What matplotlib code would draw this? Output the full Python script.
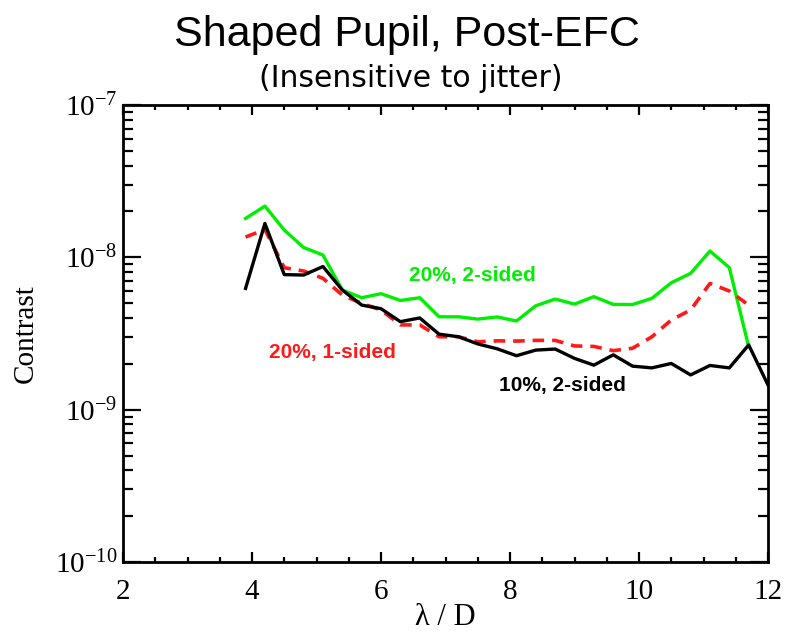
import matplotlib
matplotlib.use("Agg")
import matplotlib.pyplot as plt
from matplotlib.ticker import FixedLocator, LogLocator, MultipleLocator, NullFormatter
import numpy as np

# lambda/D sampling
lam = [3.9, 4.2, 4.5, 4.8, 5.1, 5.4, 5.7, 6.0, 6.3, 6.6, 6.9, 7.2, 7.5, 7.8,
       8.1, 8.4, 8.7, 9.0, 9.3, 9.6, 9.9, 10.2, 10.5, 10.8, 11.1, 11.4, 11.7, 12.0]

# 10%, 2-sided (black)
black = [6.25e-9, 1.67e-8, 7.7e-9, 7.65e-9, 8.7e-9, 6.1e-9, 4.86e-9, 4.6e-9,
         3.78e-9, 4.0e-9, 3.13e-9, 3.01e-9, 2.70e-9, 2.51e-9, 2.26e-9, 2.46e-9,
         2.50e-9, 2.17e-9, 1.96e-9, 2.29e-9, 1.93e-9, 1.88e-9, 2.01e-9, 1.69e-9,
         1.95e-9, 1.88e-9, 2.66e-9, 1.45e-9]

# 20%, 2-sided (green)
green = [1.80e-8, 2.17e-8, 1.51e-8, 1.16e-8, 1.035e-8, 6.1e-9, 5.43e-9, 5.77e-9,
         5.21e-9, 5.43e-9, 4.07e-9, 4.07e-9, 3.93e-9, 4.06e-9, 3.82e-9, 4.81e-9,
         5.32e-9, 4.93e-9, 5.52e-9, 4.91e-9, 4.90e-9, 5.38e-9, 6.81e-9, 7.85e-9,
         1.10e-8, 8.55e-9, 2.59e-9]

# 20%, 1-sided (red dashed)
red = [1.36e-8, 1.52e-8, 8.55e-9, 8.13e-9, 7.28e-9, 5.65e-9, 4.99e-9, 4.51e-9,
       3.6e-9, 3.6e-9, 3.01e-9, 3.01e-9, 2.79e-9, 2.83e-9, 2.82e-9, 2.85e-9,
       2.85e-9, 2.62e-9, 2.60e-9, 2.44e-9, 2.53e-9, 3.01e-9, 3.88e-9, 4.51e-9,
       6.74e-9, 6.01e-9, 4.86e-9]

serif = ["Liberation Serif", "DejaVu Serif"]
plt.rcParams["mathtext.fontset"] = "custom"
plt.rcParams["mathtext.rm"] = "Liberation Serif"

fig = plt.figure(figsize=(7.87, 6.36), dpi=100)
ax = fig.add_axes([0.1563, 0.1164, 0.8196, 0.7185])

ax.plot(lam[:len(green)], green, color="#00ee00", lw=2.4)
ax.plot(lam[:len(red)], red, color="#ff1a1a", lw=2.6, ls=(0, (3.2, 2.2)))
ax.plot(lam, black, color="black", lw=2.4)

ax.set_yscale("log")
ax.set_xlim(2, 12)
ax.set_ylim(1e-10, 1e-7)

ax.xaxis.set_major_locator(MultipleLocator(2))
ax.xaxis.set_minor_locator(MultipleLocator(0.5))
ax.yaxis.set_major_locator(FixedLocator([1e-10, 1e-9, 1e-8, 1e-7]))
ax.yaxis.set_minor_locator(LogLocator(base=10, subs=np.arange(2, 10)))
ax.yaxis.set_minor_formatter(NullFormatter())
ax.set_yticklabels([r"$\mathregular{10^{-10}}$", r"$\mathregular{10^{-9}}$",
                    r"$\mathregular{10^{-8}}$", r"$\mathregular{10^{-7}}$"])

for sp in ax.spines.values():
    sp.set_linewidth(2)
ax.tick_params(which="both", direction="in", top=True, right=True, width=1.6)
ax.tick_params(axis="x", which="major", length=7, pad=12)
ax.tick_params(axis="x", which="minor", length=3.5)
ax.tick_params(axis="y", which="major", length=13, pad=4)
ax.tick_params(axis="y", which="minor", length=7)
for lbl in ax.get_xticklabels() + ax.get_yticklabels():
    lbl.set_family(serif)
    lbl.set_fontsize(21)

ax.set_xlabel("λ / D", family=serif, fontsize=22, labelpad=-1)
ax.set_ylabel("Contrast", family=serif, fontsize=21, labelpad=12)

ax.text(7.41, 7.65e-9, "20%, 2-sided", color="#00ee00", fontsize=15,
        fontweight="bold", family="Liberation Sans", ha="center", va="center")
ax.text(5.24, 2.36e-9, "20%, 1-sided", color="#ff1a1a", fontsize=15,
        fontweight="bold", family="Liberation Sans", ha="center", va="center")
ax.text(8.81, 1.45e-9, "10%, 2-sided", color="black", fontsize=15,
        fontweight="bold", family="Liberation Sans", ha="center", va="center")

fig.text(0.517, 0.945, "Shaped Pupil, Post-EFC", family="Liberation Sans",
         fontsize=31, ha="center", va="center")
fig.text(0.522, 0.876, "(Insensitive to jitter)", family="DejaVu Sans",
         fontsize=21.5, ha="center", va="center")

fig.savefig("out.png", dpi=100)
